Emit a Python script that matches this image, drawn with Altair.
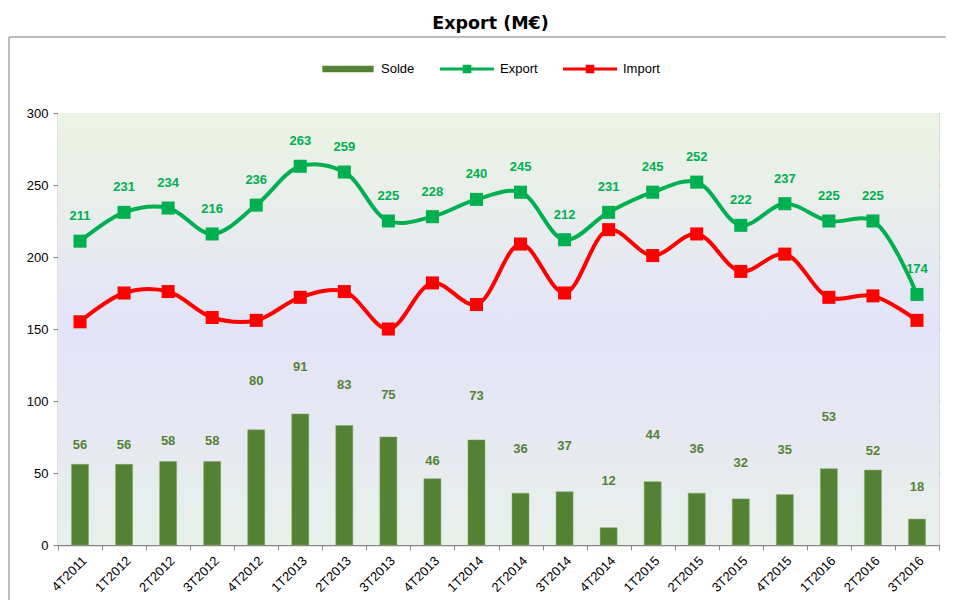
import altair as alt
import pandas as pd

categories = ["4T2011", "1T2012", "2T2012", "3T2012", "4T2012", "1T2013", "2T2013",
              "3T2013", "4T2013", "1T2014", "2T2014", "3T2014", "4T2014", "1T2015",
              "2T2015", "3T2015", "4T2015", "1T2016", "2T2016", "3T2016"]
export_vals = [211, 231, 234, 216, 236, 263, 259, 225, 228, 240, 245, 212, 231, 245,
               252, 222, 237, 225, 225, 174]
import_vals = [155, 175, 176, 158, 156, 172, 176, 150, 182, 167, 209, 175, 219, 201,
               216, 190, 202, 172, 173, 156]
solde_vals = [56, 56, 58, 58, 80, 91, 83, 75, 46, 73, 36, 37, 12, 44, 36, 32, 35, 53,
              52, 18]
series_names = ["Solde", "Export", "Import"]
series_colors = ["#548235", "#00b050", "#ff0000"]
y_ticks = [0, 50, 100, 150, 200, 250, 300]

# layout: how far (px) each Solde label sits above its bar top, as in the source chart
solde_label_gap = [19, 19, 20, 20, 49, 47, 40, 42, 18, 44, 44, 46, 47, 47, 44, 36, 45,
                   52, 19, 32]

rows = []
for name, vals in zip(series_names, [solde_vals, export_vals, import_vals]):
    for i, (c, v) in enumerate(zip(categories, vals)):
        rows.append({"cat": c, "series": name, "value": v,
                     "gap": solde_label_gap[i] if name == "Solde" else 0})
df = pd.DataFrame(rows)

FONT = "Liberation Sans"
W, H = 881, 432
YMAX = 300
GRAY = "#868686"

x_enc = alt.X("cat:N", sort=categories, title=None,
              scale=alt.Scale(paddingInner=0, paddingOuter=0),
              axis=alt.Axis(labelAngle=-45, labelAlign="right", labelBaseline="top",
                            labelFont=FONT, labelFontSize=13, labelColor="black",
                            labelPadding=4, tickBand="extent", ticks=True, tickSize=5,
                            tickColor=GRAY, domainColor=GRAY, domainWidth=1.5,
                            grid=False))
y_enc = alt.Y("value:Q", title=None,
              scale=alt.Scale(domain=[0, YMAX], nice=False, zero=True),
              axis=alt.Axis(values=y_ticks, labelFont=FONT, labelFontSize=13,
                            labelColor="black", labelPadding=5, tickSize=5,
                            tickColor=GRAY, domainColor=GRAY, domainWidth=1.5,
                            grid=True, gridColor=GRAY, gridWidth=1))
x_plain = alt.X("cat:N", sort=categories)

color_scale = alt.Scale(domain=series_names, range=series_colors)

# legend symbol paths (bar for Solde, line + square for Export / Import)
bar_sym = "M-0.95,-0.12L0.95,-0.12L0.95,0.12L-0.95,0.12Z"
line_sym = ("M-1,-0.06L1,-0.06L1,0.06L-1,0.06Z"
            "M-0.16,-0.16L0.16,-0.16L0.16,0.16L-0.16,0.16Z")

base = alt.Chart(df)
one = pd.DataFrame({"a": [0]})

bg = alt.Chart(one).mark_rect(
    color=alt.Gradient(gradient="linear", x1=0, x2=0, y1=0, y2=1,
                       stops=[alt.GradientStop(offset=0, color="#ecf4e2"),
                              alt.GradientStop(offset=0.3, color="#e7ebef"),
                              alt.GradientStop(offset=0.5, color="#e3e3f8"),
                              alt.GradientStop(offset=0.75, color="#e6e9f1"),
                              alt.GradientStop(offset=1, color="#e9f0ea")])
).encode(x=alt.value(0), x2=alt.value(W), y=alt.value(0), y2=alt.value(H))

frame_v = alt.Chart(one).mark_rule(color="#a6a6a6", strokeWidth=1.5).encode(
    x=alt.value(-49), y=alt.value(-76), y2=alt.value(H + 120))
frame_h = alt.Chart(one).mark_rule(color="#a6a6a6", strokeWidth=1.5).encode(
    y=alt.value(-76), x=alt.value(-49), x2=alt.value(W + 60))

solde = base.transform_filter("datum.series == 'Solde'")
exp_d = base.transform_filter("datum.series == 'Export'")
imp_d = base.transform_filter("datum.series == 'Import'")

bars = solde.mark_bar(size=17, stroke="#7ea862", strokeWidth=0.5).encode(
    x=x_enc, y=y_enc, color=alt.value("#548235"))

bar_labels = solde.transform_calculate(
    labpos=f"datum.value + datum.gap * {YMAX} / {H}"
).mark_text(
    font=FONT, fontSize=13, fontWeight="bold", color="#548235", baseline="middle"
).encode(x=x_plain, y="labpos:Q", text="value:Q")


def line_layer(d, col):
    return d.mark_line(interpolate="catmull-rom", strokeWidth=4, color=col).encode(
        x=x_plain, y="value:Q")


def point_layer(d, col):
    return d.mark_point(shape="square", filled=True, size=170, opacity=1,
                        color=col).encode(x=x_plain, y="value:Q")


export_labels = exp_d.mark_text(
    font=FONT, fontSize=13, fontWeight="bold", color="#00b050",
    baseline="middle", dy=-25
).encode(x=x_plain, y="value:Q", text="value:Q")

legend_layer = base.transform_filter("false").mark_point(
    filled=True, opacity=1
).encode(
    x=x_plain, y="value:Q",
    color=alt.Color("series:N", scale=color_scale,
                    legend=alt.Legend(title=None, orient="none", direction="horizontal",
                                      legendX=263, legendY=-71,
                                      symbolSize=2916, symbolStrokeWidth=0,
                                      labelFont=FONT, labelFontSize=13,
                                      labelColor="black", labelOffset=6,
                                      columnPadding=25, padding=0)),
    shape=alt.Shape("series:N",
                    scale=alt.Scale(domain=series_names,
                                    range=[bar_sym, line_sym, line_sym]))
)

chart = alt.layer(
    bg, frame_v, frame_h, bars, bar_labels,
    line_layer(imp_d, "#ff0000"), line_layer(exp_d, "#00b050"),
    point_layer(imp_d, "#ff0000"), point_layer(exp_d, "#00b050"),
    export_labels, legend_layer
).properties(
    width=W, height=H,
    title=alt.TitleParams("Export (M€)", font="DejaVu Sans", fontSize=17.5,
                          fontWeight="bold", color="black", anchor="middle",
                          frame="group", offset=4, dx=-8),
    autosize=alt.AutoSizeParams(type="none"),
    padding={"left": 50, "top": 105, "right": 7, "bottom": 55}
).configure_view(stroke=None).configure(background="white")

chart.save("out.html", embed_options={"renderer": "svg", "actions": False})
